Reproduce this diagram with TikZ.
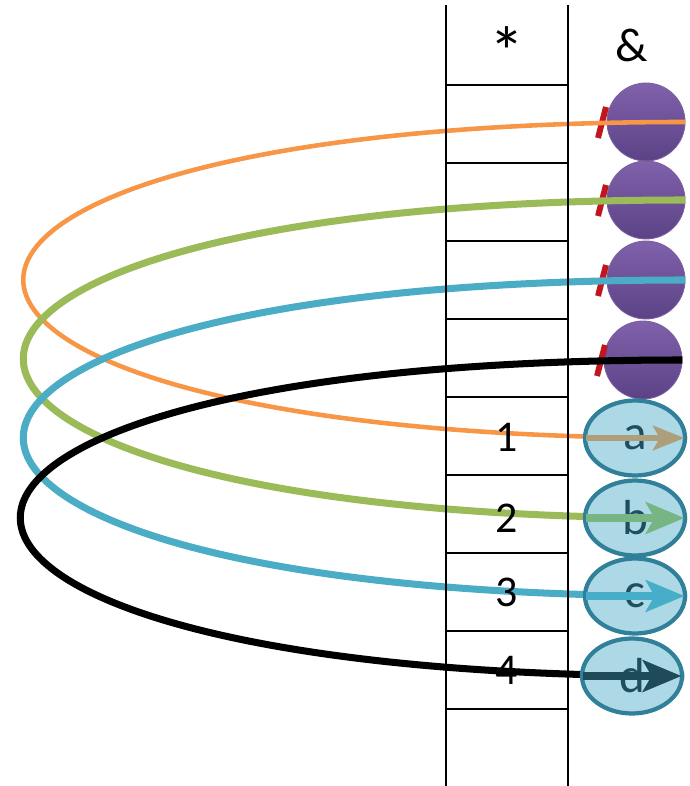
\documentclass[tikz,border=0pt]{standalone}
\usepackage{fontspec}
\setmainfont{Carlito}
\usepackage{tikz}
\usetikzlibrary{shapes.geometric,arrows.meta}

\definecolor{ballTop}{HTML}{8061AB}
\definecolor{ballBot}{HTML}{5B4285}
\definecolor{ballEdge}{HTML}{7A5FA0}
\definecolor{slotFill}{HTML}{ADD8E5}
\definecolor{slotEdge}{HTML}{31809A}
\definecolor{slotText}{HTML}{1F4E5F}
\definecolor{cutRed}{HTML}{C0161E}
\definecolor{loopOrange}{HTML}{F79646}
\definecolor{loopGreen}{HTML}{9BBB59}
\definecolor{loopBlue}{HTML}{4BACC6}
\definecolor{inOrange}{HTML}{AE9F7C}
\definecolor{inGreen}{HTML}{78B585}
\definecolor{inBlue}{HTML}{47AEC9}
\definecolor{inBlack}{HTML}{1E4A5A}

\pgfdeclarelayer{balls}
\pgfdeclarelayer{loops}
\pgfsetlayers{balls,loops,main}

\tikzset{
  ball/.style={circle, minimum size=1.56cm, inner sep=0pt, top color=ballTop,
               bottom color=ballBot, draw=ballEdge, line width=0.5pt},
  slot/.style={ellipse, minimum width=2cm, minimum height=1.5cm, inner sep=0pt,
               fill=slotFill, draw=slotEdge, line width=2.4pt, text=slotText,
               font=\fontsize{28}{30}\selectfont},
  num/.style={font=\fontsize{25}{28}\selectfont},
  cut/.style={draw=cutRed, line width=3.4pt},
  loopline/.style={line width=4pt},
  tip/.style={-{Stealth[length=22pt,width=18pt,inset=5pt]}, line width=4pt,
              shorten <=2pt, shorten >=1.5pt}
}

\begin{document}
\begin{tikzpicture}[x=0.02cm,y=-0.02cm]
        \useasboundingbox (0,0) rectangle (689,786);
        % Table: two column rails, cell lines every 78
        \draw[line width=1.1pt] (446,5) -- (446,786);
        \draw[line width=1.1pt] (568,5) -- (568,786);
        \draw[line width=1.1pt] (446,85) -- (568,85);
        \draw[line width=1.1pt] (446,163) -- (568,163);
        \draw[line width=1.1pt] (446,241) -- (568,241);
        \draw[line width=1.1pt] (446,319) -- (568,319);
        \draw[line width=1.1pt] (446,397) -- (568,397);
        \draw[line width=1.1pt] (446,475) -- (568,475);
        \draw[line width=1.1pt] (446,553) -- (568,553);
        \draw[line width=1.1pt] (446,631) -- (568,631);
        \draw[line width=1.1pt] (446,709) -- (568,709);
        % Headers
        \node[font=\fontsize{40}{40}\selectfont] (star) at (507,52) {*};
        \node[num, font=\fontsize{27}{30}\selectfont] (amp) at (632,45) {\&};
        % Cell numbers
        \node[num] (n1) at (507,437) {1};
        \node[num] (n2) at (507,518) {2};
        \node[num] (n3) at (507,592) {3};
        \node[num] (n4) at (507,670) {4};
        % Slots
        \node[slot] (e1) at (635,438) {a};
        \node[slot] (e2) at (635,518) {b};
        \node[slot] (e3) at (635,596) {c};
        \node[slot] (e4) at (632,676) {d};
        % Purple balls, with red cut marks
        \begin{pgfonlayer}{balls}
        \node[ball] (p1) at (646,122) {};
        \node[ball] (p2) at (646,200) {};
        \node[ball] (p3) at (646,280) {};
        \node[ball] (p4) at (643,360) {};
        \draw[cut] ([shift={(-40,-15)}]p1.center) -- ([shift={(-48,16)}]p1.center);
        \draw[cut] ([shift={(-40,-15)}]p2.center) -- ([shift={(-48,16)}]p2.center);
        \draw[cut] ([shift={(-40,-15)}]p3.center) -- ([shift={(-48,16)}]p3.center);
        \draw[cut] ([shift={(-38,-15)}]p4.center) -- ([shift={(-46,16)}]p4.center);
        \end{pgfonlayer}
        % Loops, under the slots
        \begin{pgfonlayer}{loops}
        \draw[loopline, draw=loopOrange, line width=2.6pt] (p1.east) .. controls +(-884,0) and +(-884,0) .. (e1.east);
        \draw[loopline, draw=loopGreen] (p2.east) .. controls +(-884,0) and +(-884,0) .. (e2.east);
        \draw[loopline, draw=loopBlue] (p3.east) .. controls +(-884,0) and +(-884,0) .. (e3.east);
        \draw[loopline, draw=black] (p4.east) .. controls +(-884,0) and +(-884,0) .. (e4.east);
        \end{pgfonlayer}
        % Arrow heads seen through the slots
        \draw[tip, draw=inOrange, line width=3pt,
              -{Stealth[length=18pt,width=14pt,inset=4pt]}] (e1.west) -- (e1.east);
        \draw[tip, draw=inGreen] (e2.west) -- (e2.east);
        \draw[tip, draw=inBlue] (e3.west) -- (e3.east);
        \draw[tip, draw=inBlack] (e4.west) -- (e4.east);
      \end{tikzpicture}
\end{document}
